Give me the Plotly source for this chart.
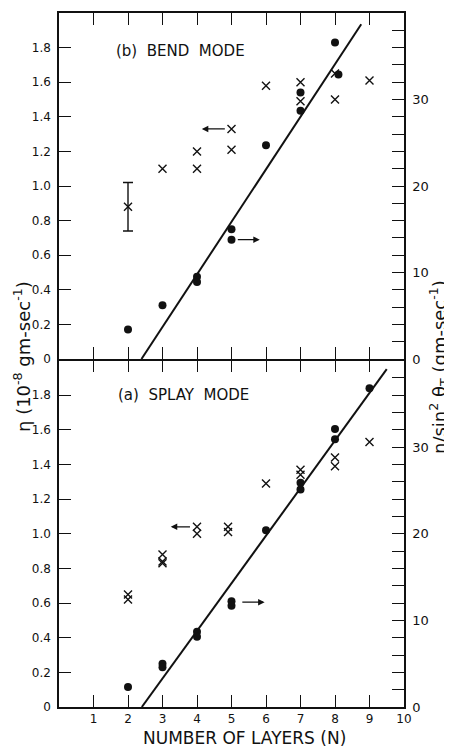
import plotly.graph_objects as go

# ---------------- data ----------------
# (b) BEND MODE
bend_cross_n = [3, 4, 4, 5, 5, 6, 7, 7, 8, 8, 9]
bend_cross_eta = [1.10, 1.20, 1.10, 1.33, 1.21, 1.58, 1.60, 1.49, 1.65, 1.50, 1.61]
bend_err_n = [2]
bend_err_eta = [0.88]
bend_err_hi = [1.02]
bend_err_lo = [0.74]
bend_dot_n = [2, 3, 4, 4, 5, 5, 6, 7, 7, 8, 8.1]
bend_dot_val = [3.4, 6.2, 9.5, 8.9, 15.0, 13.8, 24.7, 30.8, 28.7, 36.6, 32.9]
bend_fit_n = [2.39, 8.76]
bend_fit_val = [0, 38.7]

# (a) SPLAY MODE
splay_cross_n = [2, 2, 3, 3, 3, 4, 4, 4.9, 4.9, 6, 7, 7, 8, 8, 9]
splay_cross_eta = [0.65, 0.62, 0.88, 0.84, 0.83, 1.04, 1.00, 1.04, 1.01, 1.29, 1.37, 1.34, 1.44, 1.39, 1.53]
splay_dot_n = [2, 3, 3, 4, 4, 5, 5, 6, 7, 7, 8, 8, 9]
splay_dot_val = [2.3, 5.0, 4.6, 8.7, 8.1, 12.2, 11.7, 20.4, 25.9, 25.1, 32.1, 30.9, 36.8]
splay_fit_n = [2.4, 9.5]
splay_fit_val = [0, 39.0]

left_ticks = [0, 0.2, 0.4, 0.6, 0.8, 1.0, 1.2, 1.4, 1.6, 1.8]
left_labels = ["0", "0.2", "0.4", "0.6", "0.8", "1.0", "1.2", "1.4", "1.6", "1.8"]
right_ticks_top = [0, 10, 20, 30, 40]
right_ticks_bot = [0, 10, 20, 30]
right_minor_step = 2
x_ticks = [1, 2, 3, 4, 5, 6, 7, 8, 9, 10]
x_labels = ["1", "2", "3", "4", "5", "6", "7", "8", "9", "10"]

FONT = "DejaVu Sans"
BLK = "#111111"

cross = dict(symbol="x-thin", size=8, color=BLK, line=dict(width=1.4, color=BLK))
dot = dict(symbol="circle", size=8, color=BLK)

fig = go.Figure()

# top panel (bend)
fig.add_trace(go.Scatter(x=bend_cross_n, y=bend_cross_eta, mode="markers", marker=cross,
                         xaxis="x", yaxis="y", showlegend=False))
fig.add_trace(go.Scatter(x=bend_err_n, y=bend_err_eta, mode="markers", marker=cross,
                         error_y=dict(type="data", symmetric=False,
                                      array=[h - v for h, v in zip(bend_err_hi, bend_err_eta)],
                                      arrayminus=[v - l for l, v in zip(bend_err_lo, bend_err_eta)],
                                      color=BLK, thickness=1.4, width=5),
                         xaxis="x", yaxis="y", showlegend=False))
fig.add_trace(go.Scatter(x=bend_dot_n, y=bend_dot_val, mode="markers", marker=dot,
                         xaxis="x", yaxis="y2", showlegend=False))
fig.add_trace(go.Scatter(x=bend_fit_n, y=bend_fit_val, mode="lines", line=dict(color=BLK, width=2),
                         xaxis="x", yaxis="y2", showlegend=False))

# bottom panel (splay)
fig.add_trace(go.Scatter(x=splay_cross_n, y=splay_cross_eta, mode="markers", marker=cross,
                         xaxis="x2", yaxis="y3", showlegend=False))
fig.add_trace(go.Scatter(x=splay_dot_n, y=splay_dot_val, mode="markers", marker=dot,
                         xaxis="x2", yaxis="y4", showlegend=False))
fig.add_trace(go.Scatter(x=splay_fit_n, y=splay_fit_val, mode="lines", line=dict(color=BLK, width=2),
                         xaxis="x2", yaxis="y4", showlegend=False))

# page body has an 8px margin: shift the figure content up/left by 8px
OFF = 8
W, H = 452, 749
L, R, T, B = 59 - OFF, 48 + OFF, 13 - OFF, 42 + OFF
PW, PH = W - L - R, H - T - B

split_top = 348 / PH
split_bot = 346.5 / PH

xcommon = dict(range=[0, 10], showline=True, linecolor=BLK, linewidth=1.5, mirror="ticks",
               ticks="inside", ticklen=12, tickwidth=1.3, tickcolor=BLK, showgrid=False,
               zeroline=False, tickvals=x_ticks, ticktext=x_labels, automargin=False,
               tickfont=dict(family=FONT, size=12, color=BLK))
ycommon = dict(range=[0, 2], showline=True, linecolor=BLK, linewidth=1.5, ticks="inside",
               ticklen=12, tickwidth=1.3, tickcolor=BLK, showgrid=False, zeroline=False,
               tickvals=left_ticks, ticktext=left_labels, ticklabelstandoff=4, automargin=False,
               tickfont=dict(family=FONT, size=12, color=BLK))
rcommon = dict(range=[0, 40], showline=True, linecolor=BLK, linewidth=1.5, ticks="inside",
               ticklen=12, tickwidth=1.3, tickcolor=BLK, showgrid=False, zeroline=False,
               side="right", ticklabelstandoff=4, automargin=False,
               minor=dict(tick0=0, dtick=right_minor_step, ticks="inside", ticklen=12,
                          tickwidth=1.3, tickcolor=BLK, showgrid=False),
               tickfont=dict(family=FONT, size=13, color=BLK))

fig.update_layout(
    width=W, height=H,
    margin=dict(l=L, r=R, t=T, b=B, autoexpand=False),
    plot_bgcolor="white", paper_bgcolor="white",
    xaxis=dict(xcommon, domain=[0, 1], anchor="y", showticklabels=False),
    xaxis2=dict(xcommon, domain=[0, 1], anchor="y3", showticklabels=True),
    yaxis=dict(ycommon, domain=[split_top, 1], anchor="x"),
    yaxis2=dict(rcommon, overlaying="y", anchor="x", tickvals=right_ticks_top),
    yaxis3=dict(ycommon, domain=[0, split_bot], anchor="x2"),
    yaxis4=dict(rcommon, overlaying="y3", anchor="x2", tickvals=right_ticks_bot),
)

ann = []
ann.append(dict(text="(b)  BEND  MODE", x=1.6, y=1.78, xref="x", yref="y", xanchor="left",
                yanchor="middle", showarrow=False, font=dict(family=FONT, size=15, color=BLK)))
ann.append(dict(text="(a)  SPLAY  MODE", x=1.65, y=1.80, xref="x2", yref="y3", xanchor="left",
                yanchor="middle", showarrow=False, font=dict(family=FONT, size=15, color=BLK)))
# axis titles, positioned by window pixel coordinates (text, x, y, angle, size)
titles = [
    ("η (10<sup>-8</sup> gm-sec<sup>-1</sup>)", 22, 357, -90, 18),
    ("η/sin<sup>2</sup> θ<sub>T</sub> (gm-sec<sup>-1</sup>)", 439, 367, -90, 18),
    ("NUMBER OF LAYERS (N)", 244, 738, 0, 17),
]
for txt, px, py, ang, sz in titles:
    fx, fy = px - OFF, py - OFF
    ann.append(dict(text=txt, x=(fx - L) / PW, y=(H - B - fy) / PH, xref="paper", yref="paper",
                    textangle=ang, showarrow=False, xanchor="center", yanchor="middle",
                    font=dict(family=FONT, size=sz, color=BLK)))

for (xh, xt, yv, xr, yr) in [(4.14, 4.85, 1.33, "x", "y"), (5.82, 5.14, 0.69, "x", "y"),
                              (3.24, 3.84, 1.04, "x2", "y3"), (5.96, 5.27, 0.605, "x2", "y3")]:
    ann.append(dict(text="", showarrow=True, arrowhead=2, arrowsize=1, arrowwidth=1.3,
                    arrowcolor=BLK, x=xh, y=yv, ax=xt, ay=yv, xref=xr, yref=yr,
                    axref=xr, ayref=yr, standoff=0, startstandoff=0))
fig.update_layout(annotations=ann)

fig.write_html("out.html")
